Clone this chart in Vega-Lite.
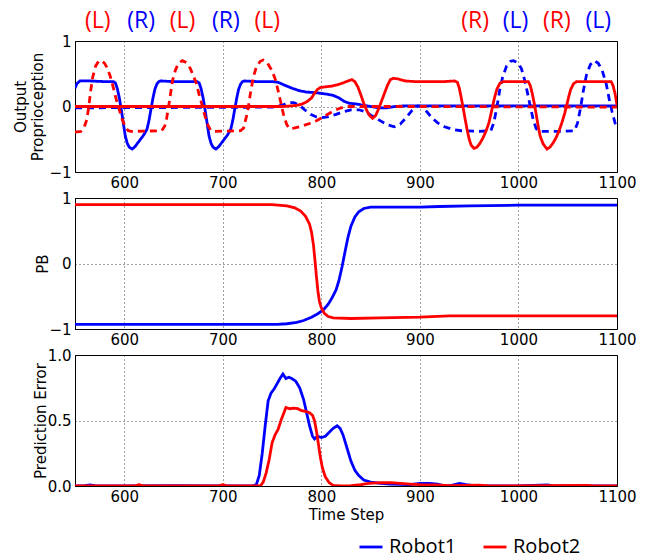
{
  "$schema": "https://vega.github.io/schema/vega-lite/v6.json",
  "autosize": {"type": "none"},
  "padding": {"left": 75, "top": 41, "right": 577, "bottom": 518},
  "background": "white",
  "config": {
    "font": "DejaVu Sans",
    "view": {"stroke": "black", "strokeWidth": 1},
    "axis": {
      "labelFont": "DejaVu Sans", "labelFontSize": 15, "labelColor": "black",
      "titleFont": "DejaVu Sans", "titleFontSize": 15, "titleFontWeight": "normal", "titleColor": "black",
      "domainColor": "black", "ticks": false, "labelFlush": false, "labelOverlap": false, "labelBound": false,
      "grid": true, "gridColor": "black", "gridDash": [1, 3], "gridOpacity": 0.75, "gridWidth": 1
    },
    "axisX": {"labelPadding": 3},
    "axisY": {"labelPadding": 4},
    "line": {"strokeWidth": 2.8, "strokeCap": "butt"}
  },
  "datasets": {
    "prop": [
      {"t":550,"v":0.28,"r":"Robot1","k":"solid"},{"t":552,"v":0.35,"r":"Robot1","k":"solid"},{"t":555,"v":0.39,"r":"Robot1","k":"solid"},{"t":565,"v":0.39,"r":"Robot1","k":"solid"},{"t":580,"v":0.38,"r":"Robot1","k":"solid"},{"t":589,"v":0.38,"r":"Robot1","k":"solid"},{"t":591,"v":0.36,"r":"Robot1","k":"solid"},{"t":593,"v":0.27,"r":"Robot1","k":"solid"},{"t":595,"v":0.13,"r":"Robot1","k":"solid"},{"t":597,"v":-0.05,"r":"Robot1","k":"solid"},{"t":599,"v":-0.25,"r":"Robot1","k":"solid"},{"t":601,"v":-0.45,"r":"Robot1","k":"solid"},{"t":603,"v":-0.56,"r":"Robot1","k":"solid"},{"t":605,"v":-0.62,"r":"Robot1","k":"solid"},{"t":608,"v":-0.65,"r":"Robot1","k":"solid"},{"t":611,"v":-0.61,"r":"Robot1","k":"solid"},{"t":614,"v":-0.55,"r":"Robot1","k":"solid"},{"t":617,"v":-0.49,"r":"Robot1","k":"solid"},{"t":620,"v":-0.43,"r":"Robot1","k":"solid"},{"t":623,"v":-0.35,"r":"Robot1","k":"solid"},{"t":625,"v":-0.22,"r":"Robot1","k":"solid"},{"t":627,"v":-0.05,"r":"Robot1","k":"solid"},{"t":629,"v":0.12,"r":"Robot1","k":"solid"},{"t":631,"v":0.26,"r":"Robot1","k":"solid"},{"t":633,"v":0.34,"r":"Robot1","k":"solid"},{"t":635,"v":0.38,"r":"Robot1","k":"solid"},{"t":637,"v":0.39,"r":"Robot1","k":"solid"},{"t":650,"v":0.38,"r":"Robot1","k":"solid"},{"t":674,"v":0.38,"r":"Robot1","k":"solid"},{"t":676,"v":0.36,"r":"Robot1","k":"solid"},{"t":678,"v":0.27,"r":"Robot1","k":"solid"},{"t":680,"v":0.13,"r":"Robot1","k":"solid"},{"t":682,"v":-0.05,"r":"Robot1","k":"solid"},{"t":684,"v":-0.25,"r":"Robot1","k":"solid"},{"t":686,"v":-0.45,"r":"Robot1","k":"solid"},{"t":688,"v":-0.56,"r":"Robot1","k":"solid"},{"t":690,"v":-0.62,"r":"Robot1","k":"solid"},{"t":693,"v":-0.65,"r":"Robot1","k":"solid"},{"t":696,"v":-0.61,"r":"Robot1","k":"solid"},{"t":699,"v":-0.55,"r":"Robot1","k":"solid"},{"t":702,"v":-0.49,"r":"Robot1","k":"solid"},{"t":705,"v":-0.43,"r":"Robot1","k":"solid"},{"t":708,"v":-0.35,"r":"Robot1","k":"solid"},{"t":710,"v":-0.22,"r":"Robot1","k":"solid"},{"t":712,"v":-0.05,"r":"Robot1","k":"solid"},{"t":714,"v":0.12,"r":"Robot1","k":"solid"},{"t":716,"v":0.26,"r":"Robot1","k":"solid"},{"t":718,"v":0.34,"r":"Robot1","k":"solid"},{"t":720,"v":0.38,"r":"Robot1","k":"solid"},{"t":722,"v":0.39,"r":"Robot1","k":"solid"},{"t":735,"v":0.38,"r":"Robot1","k":"solid"},{"t":750,"v":0.38,"r":"Robot1","k":"solid"},{"t":756,"v":0.37,"r":"Robot1","k":"solid"},{"t":762,"v":0.33,"r":"Robot1","k":"solid"},{"t":770,"v":0.28,"r":"Robot1","k":"solid"},{"t":778,"v":0.24,"r":"Robot1","k":"solid"},{"t":785,"v":0.22,"r":"Robot1","k":"solid"},{"t":795,"v":0.21,"r":"Robot1","k":"solid"},{"t":805,"v":0.19,"r":"Robot1","k":"solid"},{"t":812,"v":0.17,"r":"Robot1","k":"solid"},{"t":818,"v":0.13,"r":"Robot1","k":"solid"},{"t":823,"v":0.08,"r":"Robot1","k":"solid"},{"t":828,"v":0.05,"r":"Robot1","k":"solid"},{"t":835,"v":0.04,"r":"Robot1","k":"solid"},{"t":842,"v":0.02,"r":"Robot1","k":"solid"},{"t":850,"v":0.0,"r":"Robot1","k":"solid"},{"t":858,"v":-0.02,"r":"Robot1","k":"solid"},{"t":866,"v":-0.02,"r":"Robot1","k":"solid"},{"t":875,"v":0.0,"r":"Robot1","k":"solid"},{"t":885,"v":0.01,"r":"Robot1","k":"solid"},{"t":950,"v":0.01,"r":"Robot1","k":"solid"},{"t":1100,"v":0.01,"r":"Robot1","k":"solid"},

      {"t":550,"v":-0.02,"r":"Robot1","k":"dashed"},{"t":750,"v":-0.01,"r":"Robot1","k":"dashed"},{"t":760,"v":0.02,"r":"Robot1","k":"dashed"},{"t":767,"v":0.06,"r":"Robot1","k":"dashed"},{"t":772,"v":0.06,"r":"Robot1","k":"dashed"},{"t":778,"v":0.02,"r":"Robot1","k":"dashed"},{"t":783,"v":-0.05,"r":"Robot1","k":"dashed"},{"t":789,"v":-0.12,"r":"Robot1","k":"dashed"},{"t":795,"v":-0.16,"r":"Robot1","k":"dashed"},{"t":800,"v":-0.17,"r":"Robot1","k":"dashed"},{"t":806,"v":-0.16,"r":"Robot1","k":"dashed"},{"t":815,"v":-0.12,"r":"Robot1","k":"dashed"},{"t":822,"v":-0.08,"r":"Robot1","k":"dashed"},{"t":830,"v":-0.05,"r":"Robot1","k":"dashed"},{"t":838,"v":-0.05,"r":"Robot1","k":"dashed"},{"t":845,"v":-0.08,"r":"Robot1","k":"dashed"},{"t":852,"v":-0.15,"r":"Robot1","k":"dashed"},{"t":860,"v":-0.22,"r":"Robot1","k":"dashed"},{"t":867,"v":-0.28,"r":"Robot1","k":"dashed"},{"t":874,"v":-0.31,"r":"Robot1","k":"dashed"},{"t":880,"v":-0.27,"r":"Robot1","k":"dashed"},{"t":886,"v":-0.17,"r":"Robot1","k":"dashed"},{"t":892,"v":-0.06,"r":"Robot1","k":"dashed"},{"t":898,"v":0.01,"r":"Robot1","k":"dashed"},{"t":903,"v":0.0,"r":"Robot1","k":"dashed"},{"t":907,"v":-0.08,"r":"Robot1","k":"dashed"},{"t":912,"v":-0.17,"r":"Robot1","k":"dashed"},{"t":918,"v":-0.25,"r":"Robot1","k":"dashed"},{"t":925,"v":-0.31,"r":"Robot1","k":"dashed"},{"t":933,"v":-0.35,"r":"Robot1","k":"dashed"},{"t":942,"v":-0.37,"r":"Robot1","k":"dashed"},{"t":960,"v":-0.38,"r":"Robot1","k":"dashed"},{"t":972,"v":-0.37,"r":"Robot1","k":"dashed"},{"t":975,"v":-0.25,"r":"Robot1","k":"dashed"},{"t":978,"v":-0.02,"r":"Robot1","k":"dashed"},{"t":981,"v":0.25,"r":"Robot1","k":"dashed"},{"t":984,"v":0.45,"r":"Robot1","k":"dashed"},{"t":988,"v":0.62,"r":"Robot1","k":"dashed"},{"t":992,"v":0.69,"r":"Robot1","k":"dashed"},{"t":995,"v":0.7,"r":"Robot1","k":"dashed"},{"t":999,"v":0.67,"r":"Robot1","k":"dashed"},{"t":1003,"v":0.58,"r":"Robot1","k":"dashed"},{"t":1006,"v":0.42,"r":"Robot1","k":"dashed"},{"t":1009,"v":0.22,"r":"Robot1","k":"dashed"},{"t":1012,"v":0.0,"r":"Robot1","k":"dashed"},{"t":1015,"v":-0.2,"r":"Robot1","k":"dashed"},{"t":1018,"v":-0.34,"r":"Robot1","k":"dashed"},{"t":1021,"v":-0.38,"r":"Robot1","k":"dashed"},{"t":1040,"v":-0.38,"r":"Robot1","k":"dashed"},{"t":1057,"v":-0.37,"r":"Robot1","k":"dashed"},{"t":1060,"v":-0.25,"r":"Robot1","k":"dashed"},{"t":1063,"v":-0.02,"r":"Robot1","k":"dashed"},{"t":1066,"v":0.25,"r":"Robot1","k":"dashed"},{"t":1069,"v":0.48,"r":"Robot1","k":"dashed"},{"t":1073,"v":0.64,"r":"Robot1","k":"dashed"},{"t":1077,"v":0.7,"r":"Robot1","k":"dashed"},{"t":1081,"v":0.66,"r":"Robot1","k":"dashed"},{"t":1085,"v":0.55,"r":"Robot1","k":"dashed"},{"t":1089,"v":0.35,"r":"Robot1","k":"dashed"},{"t":1092,"v":0.12,"r":"Robot1","k":"dashed"},{"t":1095,"v":-0.08,"r":"Robot1","k":"dashed"},{"t":1098,"v":-0.25,"r":"Robot1","k":"dashed"},{"t":1100,"v":-0.33,"r":"Robot1","k":"dashed"},

      {"t":550,"v":0.0,"r":"Robot2","k":"solid"},{"t":760,"v":0.0,"r":"Robot2","k":"solid"},{"t":770,"v":0.01,"r":"Robot2","k":"solid"},{"t":776,"v":0.02,"r":"Robot2","k":"solid"},{"t":781,"v":0.04,"r":"Robot2","k":"solid"},{"t":786,"v":0.08,"r":"Robot2","k":"solid"},{"t":790,"v":0.13,"r":"Robot2","k":"solid"},{"t":793,"v":0.2,"r":"Robot2","k":"solid"},{"t":796,"v":0.26,"r":"Robot2","k":"solid"},{"t":799,"v":0.29,"r":"Robot2","k":"solid"},{"t":804,"v":0.3,"r":"Robot2","k":"solid"},{"t":810,"v":0.31,"r":"Robot2","k":"solid"},{"t":816,"v":0.33,"r":"Robot2","k":"solid"},{"t":822,"v":0.36,"r":"Robot2","k":"solid"},{"t":827,"v":0.39,"r":"Robot2","k":"solid"},{"t":831,"v":0.41,"r":"Robot2","k":"solid"},{"t":834,"v":0.38,"r":"Robot2","k":"solid"},{"t":837,"v":0.3,"r":"Robot2","k":"solid"},{"t":840,"v":0.18,"r":"Robot2","k":"solid"},{"t":843,"v":0.05,"r":"Robot2","k":"solid"},{"t":846,"v":-0.06,"r":"Robot2","k":"solid"},{"t":849,"v":-0.14,"r":"Robot2","k":"solid"},{"t":852,"v":-0.18,"r":"Robot2","k":"solid"},{"t":855,"v":-0.14,"r":"Robot2","k":"solid"},{"t":858,"v":-0.04,"r":"Robot2","k":"solid"},{"t":861,"v":0.08,"r":"Robot2","k":"solid"},{"t":864,"v":0.2,"r":"Robot2","k":"solid"},{"t":867,"v":0.32,"r":"Robot2","k":"solid"},{"t":870,"v":0.41,"r":"Robot2","k":"solid"},{"t":873,"v":0.43,"r":"Robot2","k":"solid"},{"t":878,"v":0.42,"r":"Robot2","k":"solid"},{"t":885,"v":0.39,"r":"Robot2","k":"solid"},{"t":895,"v":0.38,"r":"Robot2","k":"solid"},{"t":925,"v":0.38,"r":"Robot2","k":"solid"},{"t":935,"v":0.39,"r":"Robot2","k":"solid"},{"t":938,"v":0.37,"r":"Robot2","k":"solid"},{"t":940,"v":0.28,"r":"Robot2","k":"solid"},{"t":942,"v":0.13,"r":"Robot2","k":"solid"},{"t":944,"v":-0.03,"r":"Robot2","k":"solid"},{"t":946,"v":-0.2,"r":"Robot2","k":"solid"},{"t":948,"v":-0.36,"r":"Robot2","k":"solid"},{"t":950,"v":-0.5,"r":"Robot2","k":"solid"},{"t":952,"v":-0.59,"r":"Robot2","k":"solid"},{"t":955,"v":-0.64,"r":"Robot2","k":"solid"},{"t":958,"v":-0.62,"r":"Robot2","k":"solid"},{"t":961,"v":-0.56,"r":"Robot2","k":"solid"},{"t":964,"v":-0.48,"r":"Robot2","k":"solid"},{"t":967,"v":-0.38,"r":"Robot2","k":"solid"},{"t":970,"v":-0.25,"r":"Robot2","k":"solid"},{"t":972,"v":-0.12,"r":"Robot2","k":"solid"},{"t":974,"v":0.02,"r":"Robot2","k":"solid"},{"t":976,"v":0.15,"r":"Robot2","k":"solid"},{"t":978,"v":0.26,"r":"Robot2","k":"solid"},{"t":981,"v":0.35,"r":"Robot2","k":"solid"},{"t":984,"v":0.38,"r":"Robot2","k":"solid"},{"t":1010,"v":0.38,"r":"Robot2","k":"solid"},{"t":1012,"v":0.32,"r":"Robot2","k":"solid"},{"t":1014,"v":0.2,"r":"Robot2","k":"solid"},{"t":1016,"v":0.05,"r":"Robot2","k":"solid"},{"t":1018,"v":-0.12,"r":"Robot2","k":"solid"},{"t":1020,"v":-0.3,"r":"Robot2","k":"solid"},{"t":1022,"v":-0.45,"r":"Robot2","k":"solid"},{"t":1025,"v":-0.57,"r":"Robot2","k":"solid"},{"t":1029,"v":-0.65,"r":"Robot2","k":"solid"},{"t":1032,"v":-0.62,"r":"Robot2","k":"solid"},{"t":1035,"v":-0.56,"r":"Robot2","k":"solid"},{"t":1038,"v":-0.48,"r":"Robot2","k":"solid"},{"t":1041,"v":-0.38,"r":"Robot2","k":"solid"},{"t":1044,"v":-0.25,"r":"Robot2","k":"solid"},{"t":1047,"v":-0.1,"r":"Robot2","k":"solid"},{"t":1049,"v":0.02,"r":"Robot2","k":"solid"},{"t":1051,"v":0.15,"r":"Robot2","k":"solid"},{"t":1053,"v":0.26,"r":"Robot2","k":"solid"},{"t":1056,"v":0.35,"r":"Robot2","k":"solid"},{"t":1059,"v":0.38,"r":"Robot2","k":"solid"},{"t":1094,"v":0.38,"r":"Robot2","k":"solid"},{"t":1096,"v":0.32,"r":"Robot2","k":"solid"},{"t":1098,"v":0.2,"r":"Robot2","k":"solid"},{"t":1100,"v":0.02,"r":"Robot2","k":"solid"},

      {"t":550,"v":-0.39,"r":"Robot2","k":"dashed"},{"t":556,"v":-0.38,"r":"Robot2","k":"dashed"},{"t":559,"v":-0.33,"r":"Robot2","k":"dashed"},{"t":562,"v":-0.2,"r":"Robot2","k":"dashed"},{"t":564,"v":0.0,"r":"Robot2","k":"dashed"},{"t":566,"v":0.25,"r":"Robot2","k":"dashed"},{"t":568,"v":0.45,"r":"Robot2","k":"dashed"},{"t":571,"v":0.62,"r":"Robot2","k":"dashed"},{"t":574,"v":0.69,"r":"Robot2","k":"dashed"},{"t":577,"v":0.7,"r":"Robot2","k":"dashed"},{"t":580,"v":0.66,"r":"Robot2","k":"dashed"},{"t":583,"v":0.58,"r":"Robot2","k":"dashed"},{"t":586,"v":0.45,"r":"Robot2","k":"dashed"},{"t":589,"v":0.28,"r":"Robot2","k":"dashed"},{"t":592,"v":0.1,"r":"Robot2","k":"dashed"},{"t":595,"v":-0.05,"r":"Robot2","k":"dashed"},{"t":598,"v":-0.2,"r":"Robot2","k":"dashed"},{"t":601,"v":-0.31,"r":"Robot2","k":"dashed"},{"t":604,"v":-0.37,"r":"Robot2","k":"dashed"},{"t":607,"v":-0.38,"r":"Robot2","k":"dashed"},{"t":638,"v":-0.37,"r":"Robot2","k":"dashed"},{"t":641,"v":-0.3,"r":"Robot2","k":"dashed"},{"t":643,"v":-0.18,"r":"Robot2","k":"dashed"},{"t":645,"v":0.0,"r":"Robot2","k":"dashed"},{"t":647,"v":0.2,"r":"Robot2","k":"dashed"},{"t":649,"v":0.4,"r":"Robot2","k":"dashed"},{"t":652,"v":0.56,"r":"Robot2","k":"dashed"},{"t":655,"v":0.66,"r":"Robot2","k":"dashed"},{"t":659,"v":0.7,"r":"Robot2","k":"dashed"},{"t":663,"v":0.67,"r":"Robot2","k":"dashed"},{"t":667,"v":0.58,"r":"Robot2","k":"dashed"},{"t":670,"v":0.47,"r":"Robot2","k":"dashed"},{"t":673,"v":0.36,"r":"Robot2","k":"dashed"},{"t":676,"v":0.18,"r":"Robot2","k":"dashed"},{"t":679,"v":0.02,"r":"Robot2","k":"dashed"},{"t":682,"v":-0.15,"r":"Robot2","k":"dashed"},{"t":685,"v":-0.29,"r":"Robot2","k":"dashed"},{"t":688,"v":-0.37,"r":"Robot2","k":"dashed"},{"t":691,"v":-0.38,"r":"Robot2","k":"dashed"},{"t":718,"v":-0.37,"r":"Robot2","k":"dashed"},{"t":721,"v":-0.33,"r":"Robot2","k":"dashed"},{"t":724,"v":-0.15,"r":"Robot2","k":"dashed"},{"t":726,"v":0.0,"r":"Robot2","k":"dashed"},{"t":728,"v":0.2,"r":"Robot2","k":"dashed"},{"t":731,"v":0.45,"r":"Robot2","k":"dashed"},{"t":734,"v":0.6,"r":"Robot2","k":"dashed"},{"t":738,"v":0.69,"r":"Robot2","k":"dashed"},{"t":741,"v":0.71,"r":"Robot2","k":"dashed"},{"t":745,"v":0.67,"r":"Robot2","k":"dashed"},{"t":749,"v":0.57,"r":"Robot2","k":"dashed"},{"t":753,"v":0.43,"r":"Robot2","k":"dashed"},{"t":756,"v":0.25,"r":"Robot2","k":"dashed"},{"t":759,"v":0.05,"r":"Robot2","k":"dashed"},{"t":762,"v":-0.15,"r":"Robot2","k":"dashed"},{"t":765,"v":-0.28,"r":"Robot2","k":"dashed"},{"t":768,"v":-0.34,"r":"Robot2","k":"dashed"},{"t":772,"v":-0.33,"r":"Robot2","k":"dashed"},{"t":780,"v":-0.3,"r":"Robot2","k":"dashed"},{"t":788,"v":-0.26,"r":"Robot2","k":"dashed"},{"t":796,"v":-0.21,"r":"Robot2","k":"dashed"},{"t":804,"v":-0.14,"r":"Robot2","k":"dashed"},{"t":812,"v":-0.07,"r":"Robot2","k":"dashed"},{"t":820,"v":-0.02,"r":"Robot2","k":"dashed"},{"t":828,"v":0.0,"r":"Robot2","k":"dashed"},{"t":900,"v":0.0,"r":"Robot2","k":"dashed"},{"t":1100,"v":-0.01,"r":"Robot2","k":"dashed"}
    ],
    "ann": [
      {"t":573,"label":"(L)","r":"Robot2"},{"t":617,"label":"(R)","r":"Robot1"},{"t":659,"label":"(L)","r":"Robot2"},{"t":703,"label":"(R)","r":"Robot1"},{"t":745,"label":"(L)","r":"Robot2"},
      {"t":956,"label":"(R)","r":"Robot2"},{"t":997,"label":"(L)","r":"Robot1"},{"t":1039,"label":"(R)","r":"Robot2"},{"t":1081,"label":"(L)","r":"Robot1"}
    ],
    "pb": [
      {"t":550,"v":-0.93,"r":"Robot1"},{"t":700,"v":-0.93,"r":"Robot1"},{"t":755,"v":-0.93,"r":"Robot1"},{"t":765,"v":-0.92,"r":"Robot1"},{"t":775,"v":-0.9,"r":"Robot1"},{"t":782,"v":-0.87,"r":"Robot1"},{"t":790,"v":-0.82,"r":"Robot1"},{"t":796,"v":-0.77,"r":"Robot1"},{"t":802,"v":-0.71,"r":"Robot1"},{"t":807,"v":-0.62,"r":"Robot1"},{"t":811,"v":-0.52,"r":"Robot1"},{"t":815,"v":-0.4,"r":"Robot1"},{"t":818,"v":-0.25,"r":"Robot1"},{"t":821,"v":-0.05,"r":"Robot1"},{"t":824,"v":0.18,"r":"Robot1"},{"t":827,"v":0.4,"r":"Robot1"},{"t":830,"v":0.57,"r":"Robot1"},{"t":834,"v":0.71,"r":"Robot1"},{"t":838,"v":0.79,"r":"Robot1"},{"t":843,"v":0.84,"r":"Robot1"},{"t":850,"v":0.86,"r":"Robot1"},{"t":900,"v":0.86,"r":"Robot1"},{"t":920,"v":0.87,"r":"Robot1"},{"t":950,"v":0.88,"r":"Robot1"},{"t":1000,"v":0.89,"r":"Robot1"},{"t":1100,"v":0.89,"r":"Robot1"},
      {"t":550,"v":0.9,"r":"Robot2"},{"t":750,"v":0.9,"r":"Robot2"},{"t":765,"v":0.88,"r":"Robot2"},{"t":773,"v":0.85,"r":"Robot2"},{"t":779,"v":0.8,"r":"Robot2"},{"t":784,"v":0.72,"r":"Robot2"},{"t":788,"v":0.6,"r":"Robot2"},{"t":790,"v":0.48,"r":"Robot2"},{"t":792,"v":0.28,"r":"Robot2"},{"t":793.5,"v":0.05,"r":"Robot2"},{"t":795,"v":-0.2,"r":"Robot2"},{"t":796.5,"v":-0.42,"r":"Robot2"},{"t":798,"v":-0.58,"r":"Robot2"},{"t":800,"v":-0.68,"r":"Robot2"},{"t":803,"v":-0.76,"r":"Robot2"},{"t":807,"v":-0.81,"r":"Robot2"},{"t":812,"v":-0.83,"r":"Robot2"},{"t":830,"v":-0.84,"r":"Robot2"},{"t":860,"v":-0.83,"r":"Robot2"},{"t":900,"v":-0.82,"r":"Robot2"},{"t":930,"v":-0.8,"r":"Robot2"},{"t":1100,"v":-0.8,"r":"Robot2"}
    ],
    "pe": [
      {"t":550,"v":0.0,"r":"Robot1"},{"t":560,"v":0.003,"r":"Robot1"},{"t":565,"v":0.008,"r":"Robot1"},{"t":570,"v":0.002,"r":"Robot1"},{"t":600,"v":0.0,"r":"Robot1"},{"t":650,"v":0.003,"r":"Robot1"},{"t":700,"v":0.0,"r":"Robot1"},{"t":730,"v":0.0,"r":"Robot1"},{"t":734,"v":0.01,"r":"Robot1"},{"t":737,"v":0.08,"r":"Robot1"},{"t":740,"v":0.25,"r":"Robot1"},{"t":743,"v":0.46,"r":"Robot1"},{"t":746,"v":0.65,"r":"Robot1"},{"t":749,"v":0.71,"r":"Robot1"},{"t":752,"v":0.74,"r":"Robot1"},{"t":755,"v":0.78,"r":"Robot1"},{"t":758,"v":0.82,"r":"Robot1"},{"t":761,"v":0.855,"r":"Robot1"},{"t":764,"v":0.82,"r":"Robot1"},{"t":767,"v":0.83,"r":"Robot1"},{"t":770,"v":0.82,"r":"Robot1"},{"t":774,"v":0.8,"r":"Robot1"},{"t":778,"v":0.75,"r":"Robot1"},{"t":782,"v":0.66,"r":"Robot1"},{"t":785,"v":0.56,"r":"Robot1"},{"t":788,"v":0.46,"r":"Robot1"},{"t":791,"v":0.38,"r":"Robot1"},{"t":793,"v":0.36,"r":"Robot1"},{"t":796,"v":0.38,"r":"Robot1"},{"t":800,"v":0.37,"r":"Robot1"},{"t":804,"v":0.38,"r":"Robot1"},{"t":808,"v":0.41,"r":"Robot1"},{"t":812,"v":0.44,"r":"Robot1"},{"t":816,"v":0.46,"r":"Robot1"},{"t":819,"v":0.44,"r":"Robot1"},{"t":822,"v":0.39,"r":"Robot1"},{"t":826,"v":0.29,"r":"Robot1"},{"t":830,"v":0.19,"r":"Robot1"},{"t":834,"v":0.12,"r":"Robot1"},{"t":838,"v":0.08,"r":"Robot1"},{"t":843,"v":0.045,"r":"Robot1"},{"t":850,"v":0.03,"r":"Robot1"},{"t":860,"v":0.02,"r":"Robot1"},{"t":870,"v":0.015,"r":"Robot1"},{"t":880,"v":0.012,"r":"Robot1"},{"t":890,"v":0.01,"r":"Robot1"},{"t":900,"v":0.02,"r":"Robot1"},{"t":910,"v":0.02,"r":"Robot1"},{"t":918,"v":0.015,"r":"Robot1"},{"t":924,"v":0.003,"r":"Robot1"},{"t":932,"v":0.005,"r":"Robot1"},{"t":940,"v":0.02,"r":"Robot1"},{"t":947,"v":0.01,"r":"Robot1"},{"t":955,"v":0.002,"r":"Robot1"},{"t":1000,"v":0.0,"r":"Robot1"},{"t":1030,"v":0.008,"r":"Robot1"},{"t":1035,"v":0.0,"r":"Robot1"},{"t":1100,"v":0.0,"r":"Robot1"},
      {"t":550,"v":0.0,"r":"Robot2"},{"t":610,"v":0.0,"r":"Robot2"},{"t":615,"v":0.01,"r":"Robot2"},{"t":620,"v":0.0,"r":"Robot2"},{"t":695,"v":0.0,"r":"Robot2"},{"t":700,"v":0.01,"r":"Robot2"},{"t":705,"v":0.0,"r":"Robot2"},{"t":738,"v":0.0,"r":"Robot2"},{"t":741,"v":0.03,"r":"Robot2"},{"t":744,"v":0.1,"r":"Robot2"},{"t":747,"v":0.2,"r":"Robot2"},{"t":750,"v":0.33,"r":"Robot2"},{"t":753,"v":0.39,"r":"Robot2"},{"t":756,"v":0.43,"r":"Robot2"},{"t":759,"v":0.5,"r":"Robot2"},{"t":762,"v":0.56,"r":"Robot2"},{"t":764,"v":0.6,"r":"Robot2"},{"t":768,"v":0.59,"r":"Robot2"},{"t":772,"v":0.595,"r":"Robot2"},{"t":776,"v":0.59,"r":"Robot2"},{"t":780,"v":0.575,"r":"Robot2"},{"t":784,"v":0.57,"r":"Robot2"},{"t":788,"v":0.56,"r":"Robot2"},{"t":791,"v":0.54,"r":"Robot2"},{"t":793,"v":0.5,"r":"Robot2"},{"t":795,"v":0.42,"r":"Robot2"},{"t":797,"v":0.32,"r":"Robot2"},{"t":799,"v":0.22,"r":"Robot2"},{"t":801,"v":0.14,"r":"Robot2"},{"t":804,"v":0.07,"r":"Robot2"},{"t":808,"v":0.025,"r":"Robot2"},{"t":812,"v":0.005,"r":"Robot2"},{"t":820,"v":0.0,"r":"Robot2"},{"t":830,"v":0.002,"r":"Robot2"},{"t":840,"v":0.01,"r":"Robot2"},{"t":848,"v":0.02,"r":"Robot2"},{"t":860,"v":0.025,"r":"Robot2"},{"t":870,"v":0.025,"r":"Robot2"},{"t":880,"v":0.02,"r":"Robot2"},{"t":890,"v":0.015,"r":"Robot2"},{"t":900,"v":0.01,"r":"Robot2"},{"t":915,"v":0.008,"r":"Robot2"},{"t":930,"v":0.003,"r":"Robot2"},{"t":960,"v":0.006,"r":"Robot2"},{"t":970,"v":0.0,"r":"Robot2"},{"t":1070,"v":0.005,"r":"Robot2"},{"t":1075,"v":0.0,"r":"Robot2"},{"t":1100,"v":0.0,"r":"Robot2"}
    ]
  },
  "bounds": "flush",
  "spacing": 26,
  "vconcat": [
    {
      "width": 542, "height": 131,
      "layer": [
        {
          "data": {"name": "prop"},
          "mark": {"type": "line", "clip": true},
          "encoding": {
            "x": {"field": "t", "type": "quantitative", "scale": {"domain": [550, 1100], "nice": false, "zero": false}, "axis": {"values": [600, 700, 800, 900, 1000, 1100], "title": null, "format": "d"}},
            "y": {"field": "v", "type": "quantitative", "scale": {"domain": [-1, 1], "nice": false, "zero": false}, "axis": {"values": [-1, 0, 1], "tickCount": 3, "labelExpr": "format(datum.value, 'd')", "title": ["Output", "Proprioception"], "titlePadding": 3}},
            "color": {"field": "r", "type": "nominal", "scale": {"domain": ["Robot1", "Robot2"], "range": ["#0000ff", "#ff0000"]}, "title": null,
              "legend": {"orient": "none", "legendX": 283, "legendY": 493, "direction": "horizontal", "symbolType": "stroke", "symbolSize": 529, "symbolStrokeWidth": 3, "labelFont": "Open Sans", "labelFontSize": 20, "labelOffset": 5, "columnPadding": 20, "padding": 0, "labelLimit": 200,
                "encode": {"labels": {"update": {"fill": {"signal": "datum.value === 'Robot1' ? '#0000ff' : '#ff0000'"}}}}}},
            "strokeDash": {"field": "k", "type": "nominal", "scale": {"domain": ["solid", "dashed"], "range": [[1, 0], [7, 5]]}, "legend": null},
            "order": {"field": "t", "type": "quantitative"}
          }
        },
        {
          "data": {"name": "ann"},
          "mark": {"type": "text", "font": "Open Sans", "fontSize": 23, "baseline": "middle", "align": "center"},
          "encoding": {
            "x": {"field": "t", "type": "quantitative"},
            "y": {"datum": 1.31},
            "text": {"field": "label"},
            "fill": {"field": "r", "type": "nominal", "scale": {"domain": ["Robot1", "Robot2"], "range": ["#0000ff", "#ff0000"]}, "legend": null}
          }
        }
      ]
    },
    {
      "width": 542, "height": 131,
      "data": {"name": "pb"},
      "mark": {"type": "line", "clip": true},
      "encoding": {
        "x": {"field": "t", "type": "quantitative", "scale": {"domain": [550, 1100], "nice": false, "zero": false}, "axis": {"values": [600, 700, 800, 900, 1000, 1100], "title": null, "format": "d"}},
        "y": {"field": "v", "type": "quantitative", "scale": {"domain": [-1, 1], "nice": false, "zero": false}, "axis": {"values": [-1, 0, 1], "tickCount": 3, "labelExpr": "format(datum.value, 'd')", "title": "PB", "titlePadding": -2}},
        "color": {"field": "r", "type": "nominal", "scale": {"domain": ["Robot1", "Robot2"], "range": ["#0000ff", "#ff0000"]}, "title": null},
        "order": {"field": "t", "type": "quantitative"}
      }
    },
    {
      "width": 542, "height": 131,
      "data": {"name": "pe"},
      "mark": {"type": "line", "clip": true},
      "encoding": {
        "x": {"field": "t", "type": "quantitative", "scale": {"domain": [550, 1100], "nice": false, "zero": false}, "axis": {"values": [600, 700, 800, 900, 1000, 1100], "title": "Time Step", "titlePadding": 3, "format": "d"}},
        "y": {"field": "v", "type": "quantitative", "scale": {"domain": [0, 1], "nice": false}, "axis": {"values": [0, 0.5, 1], "format": ".1f", "title": "Prediction Error", "titlePadding": -1}},
        "color": {"field": "r", "type": "nominal", "scale": {"domain": ["Robot1", "Robot2"], "range": ["#0000ff", "#ff0000"]}, "title": null},
        "order": {"field": "t", "type": "quantitative"}
      }
    }
  ]
}
